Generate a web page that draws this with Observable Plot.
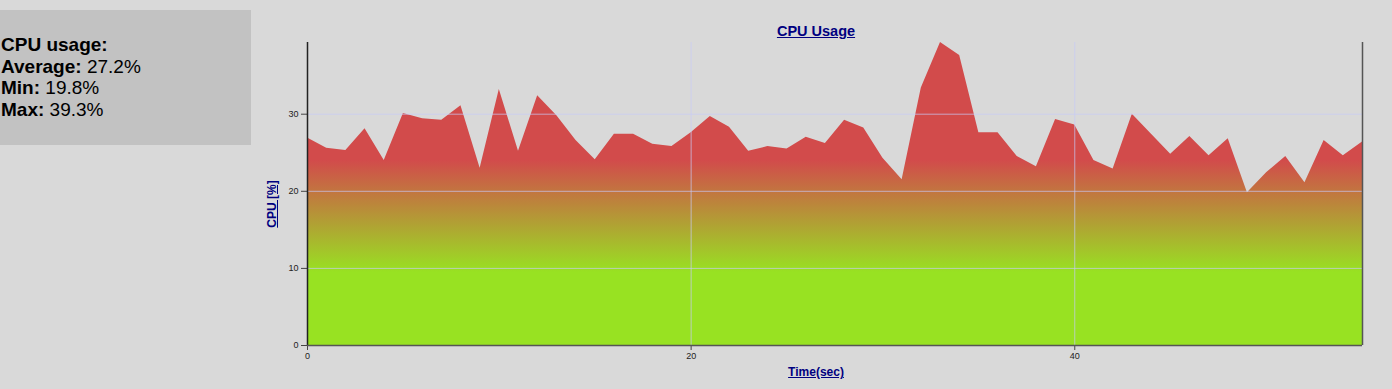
<!DOCTYPE html>
<html>
<head>
<meta charset="utf-8">
<script src="https://cdn.jsdelivr.net/npm/d3@7"></script>
<script src="https://cdn.jsdelivr.net/npm/@observablehq/plot@0.6"></script>
<style>
  html, body { margin: 0; padding: 0; background: #d9d9d9; width: 1392px; height: 389px; overflow: hidden; font-family: "Liberation Sans", Arial, sans-serif; }
  #stats { position: absolute; left: 0; top: 10px; width: 251px; height: 135px; background: #c2c2c2; box-sizing: border-box; padding: 24px 0 0 1px; font-size: 19px; line-height: 21.7px; color: #000; }
  #stats b { font-weight: bold; }
  #chart { position: absolute; left: 252px; top: 0; }
  .lbl { position: absolute; color: #000080; text-decoration: underline; font-weight: bold; white-space: nowrap; }
  #title { font-size: 14.5px; left: 816px; top: 23px; transform: translateX(-50%); }
  #xlabel { font-size: 12px; left: 816px; top: 365px; transform: translateX(-50%); }
  #ylabel { font-size: 12px; left: 272px; top: 204px; transform: translate(-50%, -50%) rotate(-90deg); }
</style>
</head>
<body>
<div id="stats">
  <div><b>CPU usage:</b></div>
  <div><b>Average:</b> 27.2%</div>
  <div><b>Min:</b> 19.8%</div>
  <div><b>Max:</b> 39.3%</div>
</div>
<div id="chart"></div>
<div id="title" class="lbl">CPU Usage</div>
<div id="ylabel" class="lbl">CPU [%]</div>
<div id="xlabel" class="lbl">Time(sec)</div>
<script>
const timeSec = [0,1,2,3,4,5,6,7,8,9,10,11,12,13,14,15,16,17,18,19,20,21,22,23,24,25,26,27,28,29,30,31,32,33,34,35,36,37,38,39,40,41,42,43,44,45,46,47,48,49,50,51,52,53,54,55];
const cpuPct = [26.9,25.6,25.3,28.1,24.0,30.1,29.4,29.2,31.1,23.0,
                33.2,25.2,32.4,29.8,26.6,24.1,27.4,27.4,26.1,25.8,
                27.6,29.7,28.3,25.2,25.8,25.5,27.0,26.2,29.2,28.2,
                24.3,21.5,33.4,39.3,37.6,27.6,27.6,24.5,23.2,29.3,
                28.6,24.0,22.9,30.0,27.4,24.8,27.1,24.6,26.8,19.8,
                22.4,24.5,21.1,26.6,24.6,26.4];
const xTicks = [0, 20, 40];
const yTicks = [0, 10, 20, 30];

const data = timeSec.map((t, i) => ({t, v: cpuPct[i]}));
const yMax = d3.max(cpuPct);
const xMax = d3.max(timeSec);

const NS = "http://www.w3.org/2000/svg";
function gradientDefs() {
  const g = document.createElementNS(NS, "g");
  const defs = document.createElementNS(NS, "defs");
  const lg = document.createElementNS(NS, "linearGradient");
  lg.setAttribute("id", "cpuGrad");
  lg.setAttribute("x1", "0"); lg.setAttribute("y1", "0");
  lg.setAttribute("x2", "0"); lg.setAttribute("y2", "1");
  [["0", "#d24b4b"], ["0.39", "#d24b4b"], ["0.76", "#98e222"], ["1", "#98e222"]].forEach(([o, c]) => {
    const s = document.createElementNS(NS, "stop");
    s.setAttribute("offset", o);
    s.setAttribute("stop-color", c);
    lg.appendChild(s);
  });
  defs.appendChild(lg);
  g.appendChild(defs);
  return g;
}

const chart = Plot.plot({
  width: 1140,
  height: 389,
  marginLeft: 55,
  marginRight: 30,
  marginTop: 42,
  marginBottom: 44,
  style: {background: "transparent", fontFamily: "Liberation Sans, Arial, sans-serif", fontSize: "9px", color: "#222"},
  x: {domain: [0, xMax], label: null},
  y: {domain: [0, yMax], label: null},
  marks: [
    gradientDefs,
    Plot.areaY(data, {x: "t", y: "v", fill: "url(#cpuGrad)"}),
    Plot.gridX(xTicks.filter(d => d > 0), {stroke: "#c8caf6", strokeOpacity: 0.7, strokeWidth: 1}),
    Plot.gridY(yTicks.filter(d => d > 0), {stroke: "#c8caf6", strokeOpacity: 0.7, strokeWidth: 1}),
    Plot.axisX({ticks: xTicks, tickSize: 5, tickPadding: 2, stroke: "#444", label: null}),
    Plot.axisY({ticks: yTicks, tickSize: 6, tickPadding: 3, stroke: "#444", label: null}),
    Plot.ruleX([0], {stroke: "#222", strokeWidth: 1.5}),
    Plot.ruleX([xMax], {stroke: "#555", strokeWidth: 1.5}),
    Plot.ruleY([0], {stroke: "#555", strokeWidth: 1.5})
  ]
});
document.getElementById("chart").appendChild(chart);
</script>
</body>
</html>
